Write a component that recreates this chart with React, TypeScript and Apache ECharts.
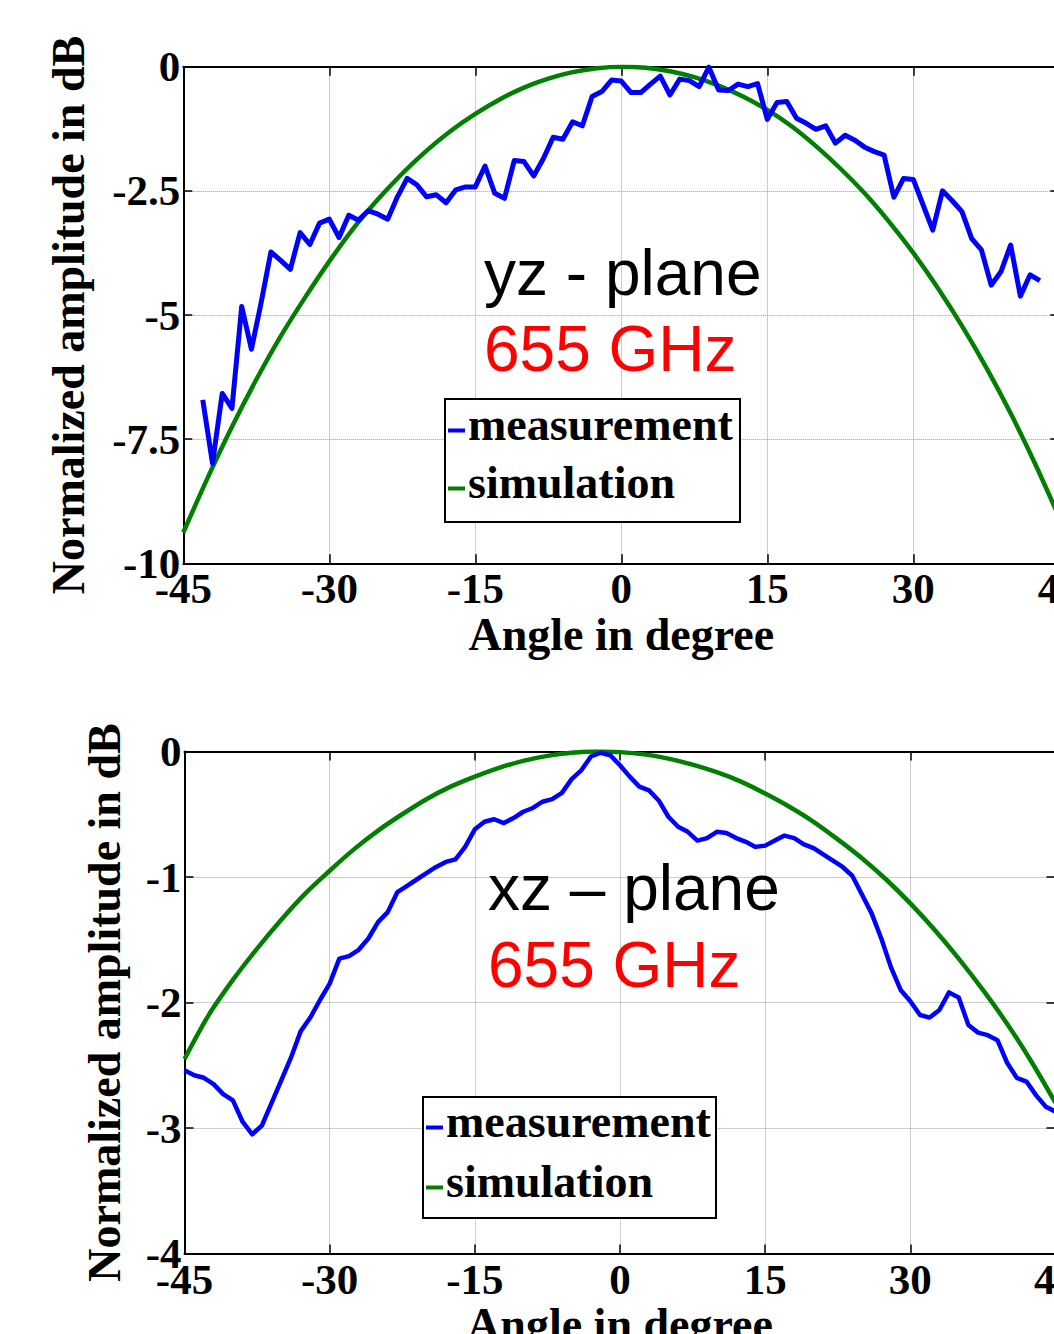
import React, { useEffect, useRef } from "react";
import * as echarts from "echarts";

// ---------- data ----------
// yz-plane measurement, 1 degree steps starting at -43 deg
const yzMeasStart = -43;
const yzMeasStep = 1;
const yzMeasValues = [
  -6.71, -7.99, -6.58, -6.88, -4.83, -5.69, -4.75, -3.73, -3.9, -4.08,
  -3.34, -3.58, -3.15, -3.07, -3.44, -2.99, -3.09, -2.9, -2.97, -3.07,
  -2.62, -2.25, -2.38, -2.62, -2.58, -2.74, -2.48, -2.42, -2.42, -2.0,
  -2.55, -2.65, -1.89, -1.91, -2.2, -1.85, -1.42, -1.46, -1.11, -1.19,
  -0.6, -0.5, -0.27, -0.29, -0.52, -0.52, -0.35, -0.19, -0.57, -0.25,
  -0.28, -0.4, -0.01, -0.47, -0.48, -0.35, -0.4, -0.34, -1.06, -0.72,
  -0.7, -1.04, -1.14, -1.26, -1.19, -1.54, -1.38, -1.48, -1.62, -1.71,
  -1.78, -2.63, -2.25, -2.27, -2.78, -3.29, -2.5, -2.7, -2.92, -3.46,
  -3.69, -4.4, -4.13, -3.59, -4.62, -4.19, -4.31,
];

// simulations, 2.5 degree steps starting at -45 deg
const simStart = -45;
const simStep = 2.5;
const yzSimValues = [
  -9.38, -8.28, -7.25, -6.3, -5.43, -4.65, -3.92, -3.25, -2.67, -2.15,
  -1.69, -1.29, -0.95, -0.66, -0.42, -0.24, -0.11, -0.03, 0, -0.02,
  -0.09, -0.21, -0.38, -0.6, -0.87, -1.2, -1.6, -2.05, -2.55, -3.12,
  -3.75, -4.45, -5.22, -6.06, -6.98, -7.99, -9.08,
];
const xzSimValues = [
  -2.45, -2.1, -1.82, -1.57, -1.34, -1.13, -0.95, -0.78, -0.63, -0.5,
  -0.38, -0.28, -0.2, -0.13, -0.075, -0.035, -0.01, 0, -0.005, -0.023,
  -0.057, -0.105, -0.165, -0.24, -0.335, -0.44, -0.56, -0.7, -0.85, -1.02,
  -1.21, -1.42, -1.65, -1.9, -2.17, -2.47, -2.8,
];

// xz-plane measurement, 1 degree steps starting at -45 deg
const xzMeasStart = -45;
const xzMeasStep = 1;
const xzMeasValues = [
  -2.54, -2.58, -2.6, -2.65, -2.73, -2.78, -2.95, -3.05, -2.98, -2.8,
  -2.62, -2.44, -2.23, -2.12, -1.98, -1.85, -1.65, -1.63, -1.58, -1.49,
  -1.36, -1.28, -1.12, -1.07, -1.02, -0.97, -0.92, -0.88, -0.86, -0.76,
  -0.62, -0.56, -0.54, -0.57, -0.53, -0.48, -0.45, -0.4, -0.38, -0.33,
  -0.22, -0.15, -0.04, -0.01, -0.03, -0.11, -0.2, -0.28, -0.31, -0.39,
  -0.52, -0.6, -0.64, -0.71, -0.69, -0.64, -0.65, -0.69, -0.72, -0.76,
  -0.75, -0.71, -0.67, -0.69, -0.74, -0.77, -0.82, -0.87, -0.92, -0.99,
  -1.14, -1.29, -1.49, -1.72, -1.9, -1.99, -2.1, -2.12, -2.06, -1.92,
  -1.96, -2.18, -2.24, -2.26, -2.3, -2.48, -2.6, -2.63, -2.74, -2.83,
  -2.87,
];

const xTickMin = -45;
const xTickMax = 45;
const xTickStep = 15;
const yzYMin = -10;
const yzYStep = 2.5;
const xzYMin = -4;
const xzYStep = 1;

const seriesNames = ["measurement", "simulation"];
const xName = "Angle in degree";
const yName = "Normalized amplitude in dB";
const topTitle = "yz - plane";
const bottomTitle = "xz \u2013 plane";
const freqLabel = "655 GHz";

// ---------- helpers ----------
const pairs = (start: number, step: number, vals: number[]) =>
  vals.map((v, i) => [start + i * step, v]);

const SERIF = "'Liberation Serif', 'Times New Roman', serif";
const SANS = "'Liberation Sans', Arial, sans-serif";
const BLUE = "#0000ff";
const GREEN = "#007f00";

function axesFor(g: number, yMin: number, yStep: number, xGap: number, yGap: number) {
  const tick = { show: true, inside: true, length: 9, lineStyle: { color: "#000", width: 1.5 } };
  const line = { show: true, onZero: false, lineStyle: { color: "#000", width: 2 } };
  const split = { show: true, lineStyle: { color: "#9a9a9a", type: "dotted", width: 1 } };
  const lab = { fontFamily: SERIF, fontWeight: "bold", fontSize: 43, color: "#000" };
  const nameStyle = { fontFamily: SERIF, fontWeight: "bold", fontSize: 46, color: "#000" };
  const x = [
    {
      gridIndex: g, type: "value", min: xTickMin, max: xTickMax, interval: xTickStep,
      position: "bottom", name: xName, nameLocation: "middle", nameGap: xGap,
      nameTextStyle: nameStyle, axisLine: line, axisTick: tick,
      axisLabel: { ...lab, margin: 4, showMinLabel: true, showMaxLabel: true },
      splitLine: split,
    },
    {
      gridIndex: g, type: "value", min: xTickMin, max: xTickMax, interval: xTickStep,
      position: "top", axisLine: line, axisTick: tick, axisLabel: { show: false },
      splitLine: { show: false },
    },
  ];
  const y = [
    {
      gridIndex: g, type: "value", min: yMin, max: 0, interval: yStep, position: "left",
      name: yName, nameLocation: "middle", nameGap: yGap, nameRotate: 90,
      nameTextStyle: nameStyle, axisLine: line, axisTick: tick,
      axisLabel: { ...lab, margin: 3, showMinLabel: true, showMaxLabel: true },
      splitLine: split,
    },
    {
      gridIndex: g, type: "value", min: yMin, max: 0, interval: yStep, position: "right",
      axisLine: line, axisTick: tick, axisLabel: { show: false }, splitLine: { show: false },
    },
  ];
  return { x, y };
}

function legendBox(x: number, y: number, w: number, h: number, dashX: number, textX: number, rowY: number[]) {
  const colors = [BLUE, GREEN];
  const els: any[] = [
    { type: "rect", shape: { x, y, width: w, height: h }, style: { fill: "#fff", stroke: "#000", lineWidth: 2 }, z: 10 },
  ];
  seriesNames.forEach((n, i) => {
    els.push({
      type: "line",
      shape: { x1: dashX, y1: rowY[i] + 6, x2: dashX + 17, y2: rowY[i] + 6 },
      style: { stroke: colors[i], lineWidth: 4 },
      z: 11,
    });
    els.push({
      type: "text",
      x: textX,
      y: rowY[i],
      style: { text: n, fontFamily: SERIF, fontWeight: "bold", fontSize: 46, fill: "#000", align: "left", verticalAlign: "middle" },
      z: 11,
    });
  });
  return els;
}

export default function App() {
  const ref = useRef<HTMLDivElement>(null);
  useEffect(() => {
    if (!ref.current) return;
    const chart = echarts.init(ref.current, undefined, { renderer: "svg" });
    const a = axesFor(0, yzYMin, yzYStep, 23, 92);
    const b = axesFor(1, xzYMin, xzYStep, 32, 57);
    const option: any = {
      animation: false,
      backgroundColor: "#fff",
      grid: [
        { left: 183.3, top: 66.7, width: 876, height: 496.6, containLabel: false, outerBoundsMode: "none" },
        { left: 184.5, top: 751.5, width: 871, height: 502, containLabel: false, outerBoundsMode: "none" },
      ],
      xAxis: [...a.x, ...b.x],
      yAxis: [...a.y, ...b.y],
      series: [
        {
          name: seriesNames[1], type: "line", xAxisIndex: 0, yAxisIndex: 0,
          data: pairs(simStart, simStep, yzSimValues), smooth: 0.3, showSymbol: false,
          lineStyle: { color: GREEN, width: 4.5 }, z: 3,
        },
        {
          name: seriesNames[0], type: "line", xAxisIndex: 0, yAxisIndex: 0,
          data: pairs(yzMeasStart, yzMeasStep, yzMeasValues), showSymbol: false,
          lineStyle: { color: BLUE, width: 5, join: "round" }, z: 4,
        },
        {
          name: seriesNames[1], type: "line", xAxisIndex: 2, yAxisIndex: 2,
          data: pairs(simStart, simStep, xzSimValues), smooth: 0.3, showSymbol: false,
          lineStyle: { color: GREEN, width: 4.5 }, z: 3,
        },
        {
          name: seriesNames[0], type: "line", xAxisIndex: 2, yAxisIndex: 2,
          data: pairs(xzMeasStart, xzMeasStep, xzMeasValues), showSymbol: false,
          lineStyle: { color: BLUE, width: 4.5, join: "round" }, z: 4,
        },
      ],
      graphic: [
        { type: "text", x: 484, y: 273, z: 12, style: { text: topTitle, fontFamily: SANS, fontSize: 64, fill: "#000", verticalAlign: "middle" } },
        { type: "text", x: 484, y: 349, z: 12, style: { text: freqLabel, fontFamily: SANS, fontSize: 64, fill: "#ff0000", verticalAlign: "middle" } },
        { type: "text", x: 488, y: 888, z: 12, style: { text: bottomTitle, fontFamily: SANS, fontSize: 64, fill: "#000", verticalAlign: "middle" } },
        { type: "text", x: 488, y: 965, z: 12, style: { text: freqLabel, fontFamily: SANS, fontSize: 64, fill: "#ff0000", verticalAlign: "middle" } },
        ...legendBox(445, 399, 295, 123, 448, 468, [424.5, 482.5]),
        ...legendBox(423, 1097, 293, 121, 426, 446, [1121.5, 1181.5]),
      ],
    };
    chart.setOption(option);
    return () => chart.dispose();
  }, []);
  return (
    <div style={{ position: "absolute", left: 0, top: 0, width: 1054, height: 1334, overflow: "hidden", background: "#fff" }}>
      <div ref={ref} style={{ width: 1100, height: 1334 }} />
    </div>
  );
}
